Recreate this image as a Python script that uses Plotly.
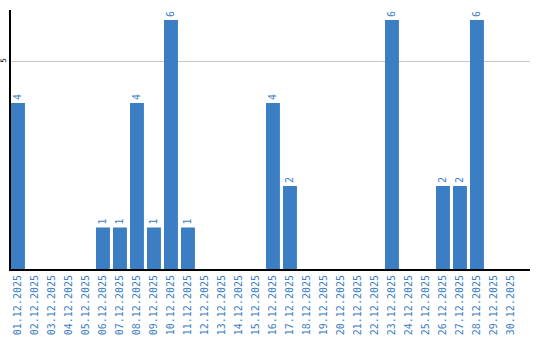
import plotly.graph_objects as go

dates = [f"{d:02d}.12.2025" for d in range(1, 31)]
values = [4, 0, 0, 0, 0, 1, 1, 4, 1, 6, 1, 0, 0, 0, 0, 4, 2, 0, 0, 0, 0, 0, 6, 0, 0, 2, 2, 6, 0, 0]

blue = "#3b7ec3"
idx = list(range(len(dates)))
texts = [str(v) if v > 0 else "" for v in values]

fig = go.Figure(go.Bar(
    x=idx, y=values, width=0.82,
    marker=dict(color=blue, line=dict(width=0)),
    text=texts, textposition="outside", textangle=-90,
    textfont=dict(family="DejaVu Sans Mono", size=10, color=blue),
    cliponaxis=False,
))

fig.update_layout(
    width=540, height=340,
    margin=dict(l=11, r=10, t=10, b=71),
    paper_bgcolor="white", plot_bgcolor="white",
    showlegend=False,
    xaxis=dict(
        range=[-0.41, 30.12], tickmode="array", tickvals=idx, ticktext=dates,
        tickangle=-90, showgrid=False, ticks="", automargin=False,
        tickfont=dict(family="DejaVu Sans Mono", size=10, color=blue),
        showline=True, linecolor="black", linewidth=2, zeroline=False,
    ),
    yaxis=dict(
        range=[0, 6.24], tickmode="array", tickvals=[5], ticktext=["5"],
        tickangle=-90, showgrid=True, gridcolor="#c8c8c8", gridwidth=1,
        tickfont=dict(family="DejaVu Sans", size=7.5, color="black"),
        showline=True, linecolor="black", linewidth=1.5, zeroline=False,
        ticks="", automargin=False, ticklabelstandoff=0,
    ),
    uniformtext=dict(mode=False),
)

fig.write_html("out.html")
